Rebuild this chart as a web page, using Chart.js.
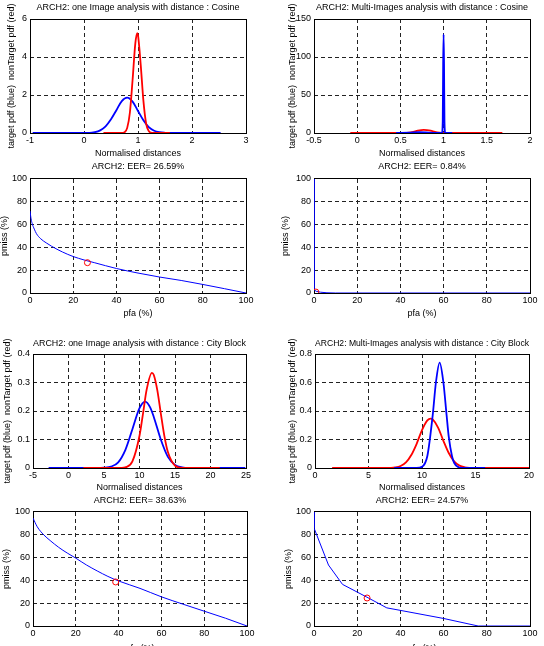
<!DOCTYPE html>
<html>
<head>
<meta charset="utf-8">
<script src="https://cdn.jsdelivr.net/npm/chart.js@4/dist/chart.umd.min.js"></script>
<style>
  html, body { margin: 0; padding: 0; background: #fff; overflow: hidden; }
  #page { position: relative; width: 544px; height: 646px; }
  canvas { position: absolute; }
</style>
</head>
<body>
<div id="page"></div>
<script>
const FONT = "'Liberation Sans', Arial, Helvetica, sans-serif";
const BLUE = '#0000ff';
const RED = '#ff0000';

const titles = [
  'ARCH2: one Image analysis with distance : Cosine',
  'ARCH2: Multi-Images analysis with distance : Cosine',
  'ARCH2: EER= 26.59%',
  'ARCH2: EER= 0.84%',
  'ARCH2: one Image analysis with distance : City Block',
  'ARCH2: Multi-Images analysis with distance : City Block',
  'ARCH2: EER= 38.63%',
  'ARCH2: EER= 24.57%'
];
const pdfXLabel = 'Normalised distances';
const pdfYLabel = 'target pdf (blue)  nonTarget pdf (red)';
const rocXLabel = 'pfa (%)';
const rocYLabel = 'pmiss (%)';

// one image, cosine
const cosOneXTicks = ['-1', '0', '1', '2', '3'];
const cosOneYTicks = ['0', '2', '4', '6'];
const cosOneTargetX = [-0.95, 0.1, 0.2, 0.3, 0.4, 0.5, 0.6, 0.7, 0.8, 0.9, 1.0, 1.1, 1.2, 1.3, 1.4, 1.5, 1.6, 2.53];
const cosOneTargetY = [0, 0, 0.04, 0.14, 0.35, 0.72, 1.2, 1.68, 1.86, 1.65, 1.16, 0.67, 0.31, 0.12, 0.04, 0.01, 0, 0];
const cosOneNonX = [0.36, 0.7, 0.75, 0.8, 0.85, 0.9, 0.95, 0.985, 1.0, 1.05, 1.1, 1.15, 1.2, 1.25, 1.3, 1.59];
const cosOneNonY = [0, 0, 0.04, 0.27, 1.08, 2.8, 4.7, 5.25, 5.15, 3.6, 1.7, 0.5, 0.1, 0.01, 0, 0];

// multi images, cosine
const cosMultiXTicks = ['-0.5', '0', '0.5', '1', '1.5', '2'];
const cosMultiYTicks = ['0', '50', '100', '150'];
const cosMultiTargetX = [0.45, 0.6, 0.72, 0.85, 0.95, 0.98, 0.99, 0.995, 1.0, 1.005, 1.01, 1.02, 1.1];
const cosMultiTargetY = [0, 0.4, 1.2, 0.4, 0, 0, 15, 90, 130, 90, 15, 0, 0];
const cosMultiNonX = [-0.08, 0.55, 0.6, 0.65, 0.7, 0.77, 0.85, 0.9, 0.95, 1.0, 1.68];
const cosMultiNonY = [0, 0, 0.5, 1.6, 3.0, 4.0, 3.0, 1.5, 0.5, 0, 0];

// one image, city block
const cbOneXTicks = ['-5', '0', '5', '10', '15', '20', '25'];
const cbOneYTicks = ['0', '0.1', '0.2', '0.3', '0.4'];
const cbOneTargetX = [-2.8, 4, 5, 6, 7, 8, 9, 10, 10.8, 11.5, 12, 13, 14, 15, 16, 17, 24.9];
const cbOneTargetY = [0, 0, 0.001, 0.005, 0.02, 0.063, 0.136, 0.21, 0.233, 0.213, 0.18, 0.10, 0.039, 0.011, 0.002, 0, 0];
const cbOneNonX = [2.1, 7.5, 8, 9, 10, 10.5, 11, 11.75, 12, 12.5, 13, 13.5, 14, 15, 16, 21.3];
const cbOneNonY = [0, 0, 0.002, 0.023, 0.113, 0.192, 0.274, 0.334, 0.327, 0.274, 0.192, 0.113, 0.056, 0.008, 0, 0];

// multi images, city block
const cbMultiXTicks = ['0', '5', '10', '15', '20'];
const cbMultiYTicks = ['0', '0.2', '0.4', '0.6', '0.8'];
const cbMultiTargetX = [7.4, 9.5, 10, 10.5, 11, 11.3, 11.65, 12, 12.3, 12.5, 12.8, 13, 13.5, 14, 15.9];
const cbMultiTargetY = [0, 0, 0.008, 0.084, 0.37, 0.60, 0.74, 0.60, 0.37, 0.22, 0.084, 0.037, 0.003, 0, 0];
const cbMultiNonX = [1.6, 6.5, 7, 7.5, 8, 8.5, 9, 9.5, 10, 10.5, 10.8, 11, 11.5, 12, 12.5, 13, 13.5, 14, 14.5, 15, 20];
const cbMultiNonY = [0, 0, 0.001, 0.004, 0.014, 0.039, 0.091, 0.17, 0.266, 0.334, 0.347, 0.341, 0.284, 0.191, 0.105, 0.047, 0.017, 0.005, 0.001, 0, 0];

// ROC curves (pmiss vs pfa)
const rocTicks = ['0', '20', '40', '60', '80', '100'];
const rocCosOneX = [0, 0.5, 1, 2, 3, 5, 7.5, 10, 15, 20, 25, 30, 40, 50, 60, 70, 80, 90, 100];
const rocCosOneY = [72, 65, 61, 56, 52, 47.5, 44, 41, 36, 32, 29, 26.5, 21.5, 17.5, 14, 11, 7.5, 3.8, 0];
const rocCosMultiX = [0, 0, 1, 3, 6, 10, 100];
const rocCosMultiY = [100, 3, 1.5, 0.7, 0.2, 0, 0];
const rocCbOneX = [0, 2, 5, 8, 12, 16, 20, 25, 30, 35, 40, 50, 60, 70, 80, 90, 100];
const rocCbOneY = [94.7, 87, 80, 75, 69, 64, 59.5, 53.5, 48.3, 43.5, 39.5, 33, 25.6, 19.2, 13, 6.8, 0];
const rocCbMultiX = [0, 0, 6.7, 13.2, 24.5, 33.7, 40, 60, 76, 100];
const rocCbMultiY = [100, 86, 53.5, 36.5, 25.3, 15.9, 13.7, 6.6, 0, 0];
const eerValues = [26.59, 0.84, 38.63, 24.57];

function pts(xs, ys) {
  return xs.map((x, i) => ({ x: x, y: ys[i] }));
}

function curve(xs, ys, color, width, order, smooth) {
  return {
    data: pts(xs, ys),
    borderColor: color,
    borderWidth: width,
    pointRadius: 0,
    fill: false,
    order: order,
    cubicInterpolationMode: smooth ? 'monotone' : 'default',
    tension: 0
  };
}

function eerMark(v) {
  return {
    data: [{ x: v, y: v }],
    showLine: false,
    pointRadius: 3,
    pointStyle: 'circle',
    pointBorderColor: RED,
    pointBackgroundColor: 'rgba(0,0,0,0)',
    pointBorderWidth: 1,
    order: -1
  };
}

// draws the solid MATLAB style box under the curves
const boxPlugin = {
  id: 'axesBox',
  beforeDatasetsDraw(chart) {
    const a = chart.chartArea;
    const ctx = chart.ctx;
    const al = p => Math.round(p - 0.5) + 0.5;
    ctx.save();
    ctx.strokeStyle = '#000';
    ctx.lineWidth = 1;
    ctx.strokeRect(al(a.left), al(a.top), al(a.right) - al(a.left), al(a.bottom) - al(a.top));
    ctx.restore();
  }
};

function makePanel(p) {
  const [bx, by, w, h] = p.box;
  const [l, t, r, b] = p.plot;
  const canvas = document.createElement('canvas');
  canvas.width = w;
  canvas.height = h;
  canvas.style.left = bx + 'px';
  canvas.style.top = by + 'px';
  canvas.style.width = w + 'px';
  canvas.style.height = h + 'px';
  document.getElementById('page').appendChild(canvas);

  const xVals = p.xTicks.map(Number);
  const yVals = p.yTicks.map(Number);
  const titlePadTop = p.titleY - 5.4;

  new Chart(canvas.getContext('2d'), {
    type: 'line',
    data: { datasets: p.datasets },
    options: {
      responsive: false,
      animation: false,
      devicePixelRatio: 1,
      layout: { padding: { left: 0, top: 0, bottom: 0, right: w - r } },
      plugins: {
        legend: { display: false },
        tooltip: { enabled: false },
        title: {
          display: true,
          text: p.title,
          fullSize: false,
          color: '#000',
          font: { family: FONT, size: 9, weight: 'normal' },
          padding: { top: titlePadTop, bottom: t - titlePadTop - 10.8 }
        }
      },
      scales: {
        x: {
          type: 'linear',
          min: xVals[0],
          max: xVals[xVals.length - 1],
          afterBuildTicks: s => { s.ticks = xVals.map(v => ({ value: v })); },
          afterFit: s => { s.height = h - b; s.paddingLeft = 0; s.paddingRight = 0; },
          ticks: {
            autoSkip: false,
            maxRotation: 0,
            padding: 2,
            color: '#000',
            font: { family: FONT, size: 9 },
            callback: (v, i) => p.xTicks[i]
          },
          grid: { color: '#222', lineWidth: 1, drawTicks: false },
          border: { display: false, dash: [4, 3] },
          title: {
            display: true,
            text: p.xLabel,
            color: '#000',
            font: { family: FONT, size: 9 },
            padding: { top: 0, bottom: 0 }
          }
        },
        y: {
          type: 'linear',
          min: yVals[0],
          max: yVals[yVals.length - 1],
          afterBuildTicks: s => { s.ticks = yVals.map(v => ({ value: v })); },
          afterFit: s => { s.width = l; s.paddingTop = 0; s.paddingBottom = 0; },
          ticks: {
            autoSkip: false,
            padding: 3,
            color: '#000',
            font: { family: FONT, size: 9 },
            callback: (v, i) => p.yTicks[i]
          },
          grid: { color: '#222', lineWidth: 1, drawTicks: false },
          border: { display: false, dash: [4, 3] },
          title: {
            display: true,
            text: p.yLabel,
            color: '#000',
            font: { family: FONT, size: 9 },
            padding: { top: p.yLabelX - 5.4, bottom: 0 }
          }
        }
      }
    },
    plugins: [boxPlugin]
  });
}

const panels = [
  {
    box: [0, 0, 272, 159], plot: [30, 19, 246, 133], titleY: 7.3, yLabelX: 11.5,
    title: titles[0], xLabel: pdfXLabel, yLabel: pdfYLabel,
    xTicks: cosOneXTicks, yTicks: cosOneYTicks,
    datasets: [
      curve(cosOneTargetX, cosOneTargetY, BLUE, 1.8, 2, true),
      curve(cosOneNonX, cosOneNonY, RED, 1.8, 1, true)
    ]
  },
  {
    box: [272, 0, 272, 159], plot: [42, 19, 258, 133], titleY: 7.3, yLabelX: 20.8,
    title: titles[1], xLabel: pdfXLabel, yLabel: pdfYLabel,
    xTicks: cosMultiXTicks, yTicks: cosMultiYTicks,
    datasets: [
      curve(cosMultiNonX, cosMultiNonY, RED, 1.8, 2, true),
      curve(cosMultiTargetX, cosMultiTargetY, BLUE, 1.8, 1, true)
    ]
  },
  {
    box: [0, 160, 272, 159], plot: [30, 19, 246, 133], titleY: 7, yLabelX: 4.5,
    title: titles[2], xLabel: rocXLabel, yLabel: rocYLabel,
    xTicks: rocTicks, yTicks: rocTicks,
    datasets: [
      curve(rocCosOneX, rocCosOneY, BLUE, 1, 1, true),
      eerMark(eerValues[0])
    ]
  },
  {
    box: [272, 160, 272, 159], plot: [42, 19, 258, 133], titleY: 7, yLabelX: 14,
    title: titles[3], xLabel: rocXLabel, yLabel: rocYLabel,
    xTicks: rocTicks, yTicks: rocTicks,
    datasets: [
      curve(rocCosMultiX, rocCosMultiY, BLUE, 1, 1, false),
      eerMark(eerValues[1])
    ]
  },
  {
    box: [0, 334, 272, 159], plot: [33, 20, 246, 134], titleY: 10, yLabelX: 7.5,
    title: titles[4], xLabel: pdfXLabel, yLabel: pdfYLabel,
    xTicks: cbOneXTicks, yTicks: cbOneYTicks,
    datasets: [
      curve(cbOneTargetX, cbOneTargetY, BLUE, 1.8, 2, true),
      curve(cbOneNonX, cbOneNonY, RED, 1.8, 1, true)
    ]
  },
  {
    box: [272, 334, 272, 159], plot: [43, 20, 257, 134], titleY: 10, yLabelX: 20.8,
    title: titles[5], xLabel: pdfXLabel, yLabel: pdfYLabel,
    xTicks: cbMultiXTicks, yTicks: cbMultiYTicks,
    datasets: [
      curve(cbMultiNonX, cbMultiNonY, RED, 1.8, 2, true),
      curve(cbMultiTargetX, cbMultiTargetY, BLUE, 1.8, 1, true)
    ]
  },
  {
    box: [0, 495, 272, 159], plot: [33, 17, 247, 131], titleY: 6, yLabelX: 6.7,
    title: titles[6], xLabel: rocXLabel, yLabel: rocYLabel,
    xTicks: rocTicks, yTicks: rocTicks,
    datasets: [
      curve(rocCbOneX, rocCbOneY, BLUE, 1, 1, true),
      eerMark(eerValues[2])
    ]
  },
  {
    box: [272, 495, 272, 159], plot: [42, 17, 258, 131], titleY: 6, yLabelX: 16.7,
    title: titles[7], xLabel: rocXLabel, yLabel: rocYLabel,
    xTicks: rocTicks, yTicks: rocTicks,
    datasets: [
      curve(rocCbMultiX, rocCbMultiY, BLUE, 1, 1, false),
      eerMark(eerValues[3])
    ]
  }
];

panels.forEach(makePanel);
</script>
</body>
</html>
